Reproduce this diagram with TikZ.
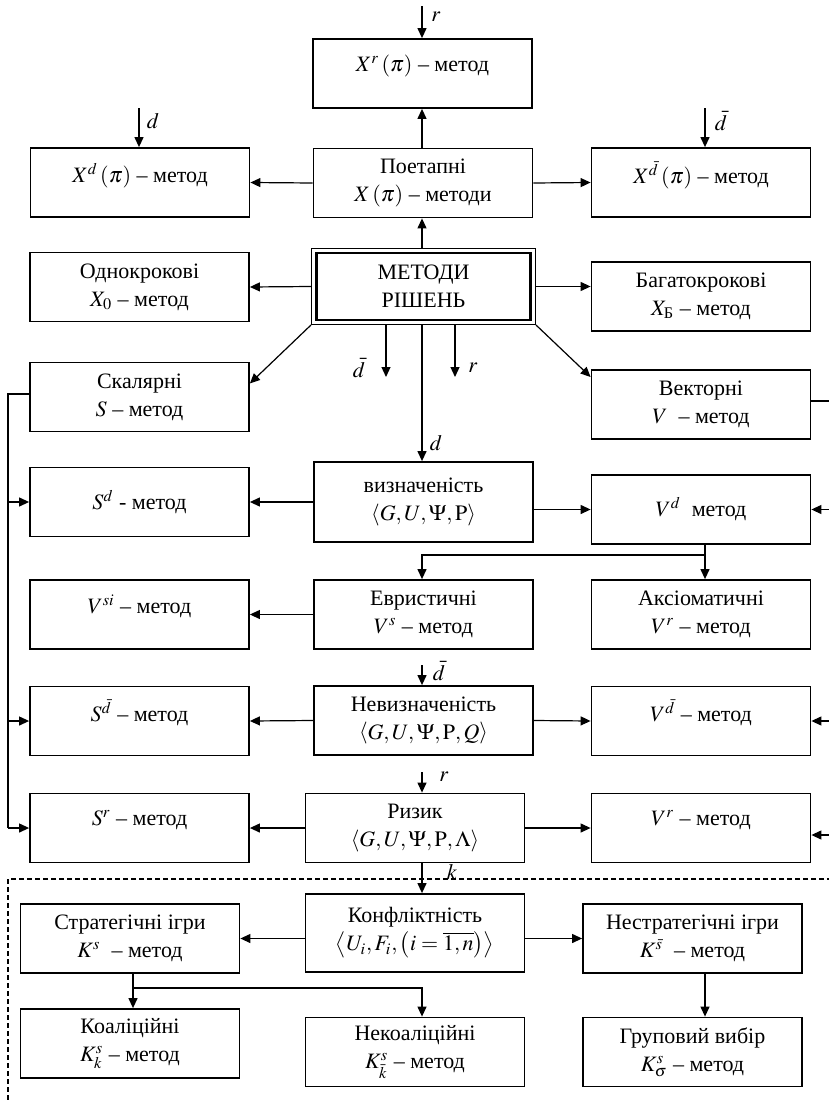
\documentclass[tikz,border=0pt]{standalone}
\usepackage{amsmath}
\usepackage{mathptmx}
\usepackage{fontspec}
\setmainfont{Liberation Serif}
\usetikzlibrary{arrows.meta}

\begin{document}
\begin{tikzpicture}[
  x=0.5pt, y=-0.5pt,
  font=\fontsize{11}{14}\selectfont,
  blk/.style={draw,line width=0.9pt,minimum width=109.5pt,minimum height=34.5pt,
              align=center,inner sep=1pt},
  hi/.style={text depth=10pt},
  arr/.style={line width=0.6pt,-{Triangle[length=5pt,width=4.5pt]}},
  bus/.style={line width=0.6pt},
  lbl/.style={inner sep=1pt},
]
  \useasboundingbox (0,0) rectangle (829,1103);
  \coordinate (axis) at (422,0);

  % Stage-wise methods
  \node[blk,hi] (xr)   at (422.5,73.5) {$X^{r}\left(\pi\right)$ – метод};
  \node[blk,hi] (xd)   at (140,182.5)  {$X^{d}\left(\pi\right)$ – метод};
  \node[blk]    (poet) at (423,183)    {Поетапні\\$X\left(\pi\right)$ – методи};
  \node[blk,hi] (xdb)  at (701,182.5)  {$X^{\bar d}\left(\pi\right)$ – метод};

  % Main block (double frame)
  \node[draw,line width=1.2pt,minimum width=107pt,minimum height=33.5pt,
        align=center,inner sep=1pt] (main) at (423.5,286.5) {МЕТОДИ\\РІШЕНЬ};
  \node[draw,line width=0.5pt,minimum width=112pt,minimum height=38pt] (mainout) at (main) {};
  \node[blk] (odno)   at (139.5,287) {Однокрокові\\$X_{0}$ – метод};
  \node[blk] (bagato) at (701,296.5) {Багатокрокові\\$X_{\text{Б}}$ – метод};
  \node[blk] (skal)   at (139.5,397) {Скалярні\\$S$ – метод};
  \node[blk] (vekt)   at (701,404.5) {Векторні\\$V$\ \ – метод};

  % Determinacy
  \node[blk]    (sd)  at (139.5,502) {$S^{d}$ - метод};
  \node[blk,minimum height=40pt] (viz) at (423.5,502)
        {визначеність\\$\left\langle G,U,\Psi,\mathrm{P}\right\rangle$};
  \node[blk]    (vd)  at (701,509.5) {$V^{d}$\ \ метод};
  \node[blk,hi] (vsi) at (139.5,614.5) {$V^{si}$ – метод};
  \node[blk]    (evr) at (423.5,614.5) {Евристичні\\$V^{s}$ – метод};
  \node[blk]    (aks) at (701,614.5) {Аксіоматичні\\$V^{r}$ – метод};

  % Uncertainty and risk
  \node[blk,hi] (sdb) at (139.5,721) {$S^{\bar d}$ – метод};
  \node[blk]    (nev) at (423.5,720.5)
        {Невизначеність\\$\left\langle G,U,\Psi,\mathrm{P},Q\right\rangle$};
  \node[blk,hi] (vdb) at (701,721) {$V^{\bar d}$ – метод};
  \node[blk,hi] (sr)  at (139.5,828) {$S^{r}$ – метод};
  \node[blk]    (ryz) at (415,828)
        {Ризик\\$\left\langle G,U,\Psi,\mathrm{P},\Lambda\right\rangle$};
  \node[blk,hi] (vr)  at (701,828) {$V^{r}$ – метод};

  % Conflict
  \node[blk,minimum height=39pt] (konf) at (415,933)
        {Конфліктність\\$\left\langle U_{i},F_{i},\left(i=\overline{1,n}\right)\right\rangle$};
  \node[blk] (strat)  at (130,938.5)  {Стратегічні ігри\\$K^{s}$\ \ – метод};
  \node[blk] (nestr)  at (692.5,938.5) {Нестратегічні ігри\\$K^{\bar s}$\ \ – метод};
  \node[blk] (koal)   at (130,1043.5) {Коаліційні\\$K^{s}_{k}$ – метод};
  \node[blk] (nekoal) at (415,1052)   {Некоаліційні\\$K^{s}_{\bar k}$ – метод};
  \node[blk] (grup)   at (692.5,1052) {Груповий вибір\\$K^{s}_{\sigma}$ – метод};

  % Inputs from above
  \coordinate (rin) at (422,6);
  \draw[arr] (rin) -- (rin |- xr.north);
  \node[lbl] (rlab) at (436,17) {$r$};
  \coordinate (din) at (139,108);
  \draw[arr] (din) -- (din |- xd.north);
  \node[lbl] (dlab) at (153,121) {$d$};
  \coordinate (dbin) at (705,108);
  \draw[arr] (dbin) -- (dbin |- xdb.north);
  \node[lbl] (dblab) at (721,121) {$\bar d$};

  % Stage-wise links
  \draw[arr] (poet.north -| axis) -- (xr.south -| axis);
  \draw[arr] (poet.west) -- (xd.east);
  \draw[arr] (poet.east) -- (xdb.west);
  \draw[arr] (mainout.north -| axis) -- (poet.south -| axis);

  % From the main block
  \draw[arr] (mainout.west) -- (odno.east);
  \draw[arr] (mainout.east) -- (mainout.east -| bagato.west);
  \draw[arr] (mainout.south west) -- (skal.7);
  \draw[arr] (mainout.south east) -- (vekt.166);
  \coordinate (dbo) at (386,377);
  \draw[arr] (mainout.south -| dbo) -- (dbo);
  \node[lbl] (dblab2) at (359,368) {$\bar d$};
  \coordinate (rbo) at (455,377);
  \draw[arr] (mainout.south -| rbo) -- (rbo);
  \node[lbl] (rlab2) at (473,368) {$r$};
  \draw[arr] (mainout.south -| axis) -- (viz.north -| axis);
  \node[lbl] (dlab2) at (436,443) {$d$};

  % Scalar bus (left)
  \coordinate (lbus) at (8,394);
  \draw[bus] (skal.west |- lbus) -- (lbus) -- (lbus |- sr);
  \draw[arr] (lbus |- sd) -- (sd.west);
  \draw[arr] (lbus |- sdb) -- (sdb.west);
  \draw[arr] (lbus |- sr) -- (sr.west);

  % Vector bus (right)
  \coordinate (rbus) at (836,401);
  \coordinate (rbusend) at (836,835);
  \draw[bus] (vekt.east |- rbus) -- (rbus) -- (rbusend);
  \draw[arr] (rbus |- vd) -- (vd.east);
  \draw[arr] (rbus |- vdb) -- (vdb.east);
  \draw[arr] (rbusend) -- (rbusend -| vr.east);

  % Determinacy links
  \draw[arr] (viz.west) -- (sd.east);
  \draw[arr] (viz.east |- vd) -- (vd.west);
  \coordinate (vdsplit) at (705,555);
  \draw[bus] (vd.south -| vdsplit) -- (vdsplit);
  \draw[arr] (vdsplit) -| (evr.north -| axis);
  \draw[arr] (vdsplit) -- (vdsplit |- aks.north);
  \draw[arr] (evr.west) -- (vsi.east);

  % Uncertainty and risk links
  \coordinate (dbar2) at (422,665);
  \draw[arr] (dbar2) -- (dbar2 |- nev.north);
  \node[lbl] (dblab3) at (439,671) {$\bar d$};
  \draw[arr] (nev.west) -- (sdb.east);
  \draw[arr] (nev.east) -- (vdb.west);
  \coordinate (rin2) at (422,772);
  \draw[arr] (rin2) -- (rin2 |- ryz.north);
  \node[lbl] (rlab3) at (444,777) {$r$};
  \draw[arr] (ryz.west) -- (sr.east);
  \draw[arr] (ryz.east) -- (vr.west);

  % Conflict block (dashed frame)
  \coordinate (frm) at (8,879);
  \draw[line width=0.6pt,dash pattern=on 2.5pt off 1.5pt] (840,879) -- (frm) -- (8,1110);
  \draw[arr] (ryz.south -| axis) -- (konf.north -| axis);
  \node[lbl] (klab) at (452,872) {$k$};
  \draw[arr] (konf.west |- strat) -- (strat.east);
  \draw[arr] (konf.east |- nestr) -- (nestr.west);
  \coordinate (ssplit) at (133,988);
  \draw[bus] (strat.south -| ssplit) -- (ssplit);
  \draw[arr] (ssplit) -- (ssplit |- koal.north);
  \draw[arr] (ssplit) -| (nekoal.north -| axis);
  \draw[arr] (nestr.south -| vdsplit) -- (vdsplit |- grup.north);
\end{tikzpicture}
\end{document}
